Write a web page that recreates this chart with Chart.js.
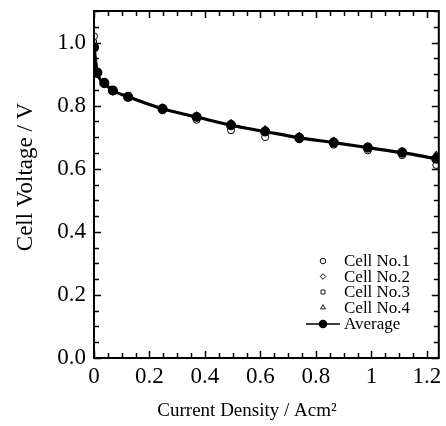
<!DOCTYPE html>
<html>
<head>
<meta charset="utf-8">
<script src="https://cdn.jsdelivr.net/npm/chart.js@4/dist/chart.umd.min.js"></script>
<style>
  html, body { margin: 0; padding: 0; background: #fff; }
  #wrap { width: 446px; height: 426px; }
</style>
</head>
<body>
<div id="wrap"><canvas id="c" width="446" height="426"></canvas></div>
<script>
// ---- data ----
const currentDensity = [0, 0.012, 0.037, 0.068, 0.123, 0.247, 0.370, 0.494, 0.617, 0.740, 0.864, 0.987, 1.111, 1.234];
const cell1   = [1.020, 0.900, 0.868, 0.845, 0.826, 0.785, 0.755, 0.722, 0.700, 0.693, 0.676, 0.658, 0.643, 0.612];
const cell2   = [0.990, 0.910, 0.875, 0.850, 0.830, 0.792, 0.768, 0.745, 0.724, 0.703, 0.690, 0.670, 0.656, 0.640];
const cell3   = [1.000, 0.905, 0.872, 0.848, 0.828, 0.790, 0.764, 0.738, 0.717, 0.697, 0.682, 0.665, 0.650, 0.630];
const cell4   = [1.000, 0.910, 0.876, 0.851, 0.831, 0.795, 0.770, 0.745, 0.726, 0.705, 0.688, 0.672, 0.657, 0.645];
const average = [0.985, 0.905, 0.872, 0.848, 0.828, 0.790, 0.764, 0.738, 0.718, 0.698, 0.683, 0.667, 0.651, 0.632];
const seriesNames = ['Cell No.1', 'Cell No.2', 'Cell No.3', 'Cell No.4', 'Average'];
const xTickValues = [0, 0.2, 0.4, 0.6, 0.8, 1.0, 1.2];
const xTickLabels = ['0', '0.2', '0.4', '0.6', '0.8', '1', '1.2'];
const yTickValues = [0, 0.2, 0.4, 0.6, 0.8, 1.0];
const yTickLabels = ['0.0', '0.2', '0.4', '0.6', '0.8', '1.0'];
const xTitle = 'Current Density / Acm²';
const yTitle = 'Cell Voltage / V';

const FONT = '"Liberation Serif", "Times New Roman", serif';
const toPts = ys => currentDensity.map((x, i) => ({x: x, y: ys[i]}));

const cellStyle = (name, ys, style) => ({
  label: name, data: toPts(ys), showLine: false,
  pointStyle: style, pointRadius: 3.5, pointBorderWidth: 1,
  pointBorderColor: '#000', pointBackgroundColor: '#fff', order: 2
});

const datasets = [
  { label: seriesNames[4], data: toPts(average), showLine: true,
    borderColor: '#000', borderWidth: 3.2, cubicInterpolationMode: 'monotone',
    pointStyle: 'circle', pointRadius: 3.5, pointBackgroundColor: '#000',
    pointBorderColor: '#000', order: 0 },
  cellStyle(seriesNames[0], cell1, 'circle'),
  cellStyle(seriesNames[1], cell2, 'rectRot'),
  cellStyle(seriesNames[2], cell3, 'rect'),
  cellStyle(seriesNames[3], cell4, 'triangle'),
];

// frame + inward ticks on all four sides
const framePlugin = {
  id: 'frame',
  afterDraw(chart) {
    const {ctx, chartArea: a, scales: {x, y}} = chart;
    ctx.save();
    ctx.strokeStyle = '#000';
    ctx.lineWidth = 1.5;
    ctx.beginPath();
    for (let k = 0; k * 0.05 <= x.max + 1e-9; k++) {
      const px = Math.round(x.getPixelForValue(k * 0.05)) + 0.5;
      const len = (k % 4 === 0) ? 7 : 5;
      ctx.moveTo(px, a.bottom); ctx.lineTo(px, a.bottom - len);
      ctx.moveTo(px, a.top); ctx.lineTo(px, a.top + len);
    }
    for (let k = 0; k * 0.05 <= y.max + 1e-9; k++) {
      const py = Math.round(y.getPixelForValue(k * 0.05)) + 0.5;
      const len = (k % 4 === 0) ? 7 : 5;
      ctx.moveTo(a.left, py); ctx.lineTo(a.left + len, py);
      ctx.moveTo(a.right, py); ctx.lineTo(a.right - len, py);
    }
    ctx.stroke();
    ctx.lineWidth = 2;
    ctx.strokeRect(a.left, a.top, a.right - a.left, a.bottom - a.top);
    ctx.restore();
  }
};

// axis titles
const titlePlugin = {
  id: 'axisTitles',
  afterDraw(chart) {
    const {ctx} = chart;
    ctx.save();
    ctx.fillStyle = '#000';
    ctx.textAlign = 'center';
    ctx.textBaseline = 'middle';
    ctx.font = '19px ' + FONT;
    ctx.fillText(xTitle, 247, 411);
    ctx.translate(26, 177);
    ctx.rotate(-Math.PI / 2);
    ctx.font = '23px ' + FONT;
    ctx.fillText(yTitle, 0, 0);
    ctx.restore();
  }
};

// legend inside the plot area, lower right
const legendPlugin = {
  id: 'innerLegend',
  afterDraw(chart) {
    const {ctx} = chart;
    const rows = [261, 276.5, 292, 307.5, 324];
    const mx = 323, tx = 344;
    const order = [1, 2, 3, 4, 0];
    ctx.save();
    ctx.font = '17px ' + FONT;
    ctx.textBaseline = 'middle';
    order.forEach((di, r) => {
      const ds = chart.data.datasets[di];
      const yy = rows[r];
      if (di === 0) {
        ctx.strokeStyle = '#000';
        ctx.lineWidth = 1.5;
        ctx.beginPath(); ctx.moveTo(306, yy); ctx.lineTo(340, yy); ctx.stroke();
        ctx.fillStyle = '#000';
        Chart.helpers.drawPoint(ctx, {pointStyle: 'circle', radius: 3.5, borderWidth: 1, rotation: 0}, mx, yy);
      } else {
        ctx.strokeStyle = '#000';
        ctx.lineWidth = 0.9;
        ctx.fillStyle = '#fff';
        Chart.helpers.drawPoint(ctx, {pointStyle: ds.pointStyle, radius: 2.8, borderWidth: 0.9, rotation: 0}, mx, yy);
      }
      ctx.fillStyle = '#000';
      ctx.fillText(ds.label, tx, yy + 1);
    });
    ctx.restore();
  }
};

new Chart(document.getElementById('c'), {
  type: 'scatter',
  data: { datasets },
  options: {
    responsive: false,
    animation: false,
    layout: { padding: { top: 11, right: 4, left: 0, bottom: 0 } },
    plugins: { legend: { display: false }, tooltip: { enabled: false } },
    scales: {
      x: {
        type: 'linear', min: 0, max: 1.243,
        grid: { display: false, drawTicks: false },
        border: { display: false },
        afterBuildTicks: s => { s.ticks = xTickValues.map(v => ({value: v})); },
        afterFit: s => { s.height = 68; s.paddingLeft = 0; s.paddingRight = 0; },
        ticks: {
          color: '#000', padding: 5, maxRotation: 0,
          font: { family: FONT, size: 23 },
          callback: (v) => { const i = xTickValues.findIndex(t => Math.abs(t - v) < 1e-6); return i >= 0 ? xTickLabels[i] : ''; }
        },
        title: { display: false }
      },
      y: {
        type: 'linear', min: 0, max: 1.1,
        grid: { display: false, drawTicks: false },
        border: { display: false },
        afterBuildTicks: s => { s.ticks = yTickValues.map(v => ({value: v})); },
        afterFit: s => { s.width = 94; s.paddingTop = 0; s.paddingBottom = 0; },
        ticks: {
          color: '#000', padding: 8,
          font: { family: FONT, size: 23 },
          callback: (v) => { const i = yTickValues.findIndex(t => Math.abs(t - v) < 1e-6); return i >= 0 ? yTickLabels[i] : ''; }
        },
        title: { display: false }
      }
    }
  },
  plugins: [framePlugin, titlePlugin, legendPlugin]
});
</script>
</body>
</html>
